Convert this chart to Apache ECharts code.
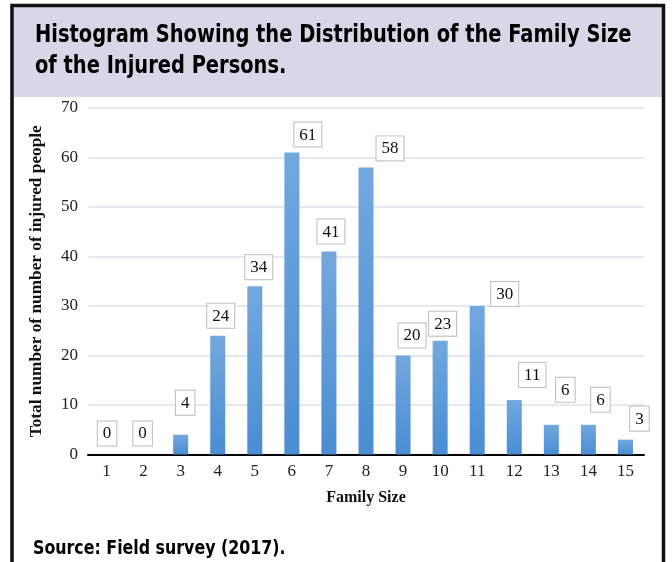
<!DOCTYPE html>
<html>
<head>
<meta charset="utf-8">
<script src="https://cdn.jsdelivr.net/npm/echarts@6/dist/echarts.min.js"></script>
<style>
  html, body { margin: 0; padding: 0; background: #fff; }
  #chart { width: 672px; height: 562px; }
</style>
</head>
<body>
<div id="chart"></div>
<script>
// family size categories and number of injured persons
const familySizes = ["1", "2", "3", "4", "5", "6", "7", "8", "9", "10", "11", "12", "13", "14", "15"];
const injuredCounts = [0, 0, 4, 24, 34, 61, 41, 58, 20, 23, 30, 11, 6, 6, 3];
const yTicks = { min: 0, max: 70, step: 10 };

const titleText = "Histogram Showing the Distribution of the Family Size\nof the Injured Persons.";
const sourceText = "Source: Field survey (2017).";
const yName = "Total number of number of injured people";
const xName = "Family Size";

// label boxes were nudged by hand in the original, keep the shifts apart from data
const labelShiftX = [0.5, -1, 4.5, 3, 4, 16, 2, 24, 9, 2.5, 27.5, 18, 14, 12, 14];
const labelGap = [9, 9, 20, 8, 7, 6, 8, 7, 8, 5, 0, 13, 23, 13, 9];

const serif = '"Liberation Serif", "Times New Roman", serif';
const narrow = '"Liberation Sans Narrow", "DejaVu Sans Condensed", "Arial Narrow", sans-serif';

const chart = echarts.init(document.getElementById("chart"));

const seriesData = injuredCounts.map((v, i) => {
  return {
    value: v,
    label: { offset: [labelShiftX[i], -labelGap[i]] },
  };
});

const option = {
  animation: false,
  backgroundColor: "#fff",
  grid: { left: 88, right: 28, top: 108, bottom: 107.5 },
  xAxis: {
    type: "category",
    data: familySizes,
    name: xName,
    nameLocation: "middle",
    nameGap: 35,
    nameTextStyle: { fontFamily: serif, fontWeight: "bold", fontSize: 16, color: "#111" },
    axisLine: { lineStyle: { color: "#000", width: 2 } },
    axisTick: { show: false },
    axisLabel: { fontFamily: serif, fontSize: 17, color: "#222", margin: 9 },
  },
  yAxis: {
    type: "value",
    min: yTicks.min,
    max: yTicks.max,
    interval: yTicks.step,
    name: yName,
    nameLocation: "middle",
    nameGap: 43,
    nameTextStyle: { fontFamily: serif, fontWeight: "bold", fontSize: 17.3, color: "#111" },
    axisLine: { show: false },
    axisTick: { show: false },
    axisLabel: { fontFamily: serif, fontSize: 17, color: "#222", margin: 10 },
    splitLine: { lineStyle: { color: "#dbe1ea", width: 1.5 } },
  },
  series: [
    {
      type: "bar",
      data: seriesData,
      barWidth: 15,
      itemStyle: {
        color: new echarts.graphic.LinearGradient(0, 0, 0, 1, [
          { offset: 0, color: "#72a8de" },
          { offset: 1, color: "#4a8dd3" },
        ]),
      },
      label: {
        show: true,
        position: "top",
        distance: 0,
        fontFamily: serif,
        fontSize: 17,
        color: "#111",
        backgroundColor: "#fff",
        borderColor: "#bdbdbd",
        borderWidth: 1,
        padding: [4, 5, 3, 5],
      },
    },
  ],
  graphic: [
    // header band
    {
      type: "rect",
      shape: { x: 14, y: 7, width: 648, height: 90 },
      style: { fill: "#d9d7e7" },
      z: -1,
    },
    {
      type: "text",
      x: 35,
      y: 20,
      scaleX: 0.9,
      style: {
        text: titleText,
        font: "bold 24px " + narrow,
        fill: "#000",
        lineHeight: 31,
      },
    },
    {
      type: "text",
      x: 33,
      y: 539,
      scaleX: 0.88,
      style: {
        text: sourceText,
        font: "bold 20px " + narrow,
        fill: "#000",
      },
    },
    // frame
    {
      type: "rect",
      shape: { x: 12, y: 5.5, width: 651.5, height: 600 },
      style: { fill: "none", stroke: "#111", lineWidth: 3.5 },
    },
  ],
};

chart.setOption(option);
</script>
</body>
</html>
